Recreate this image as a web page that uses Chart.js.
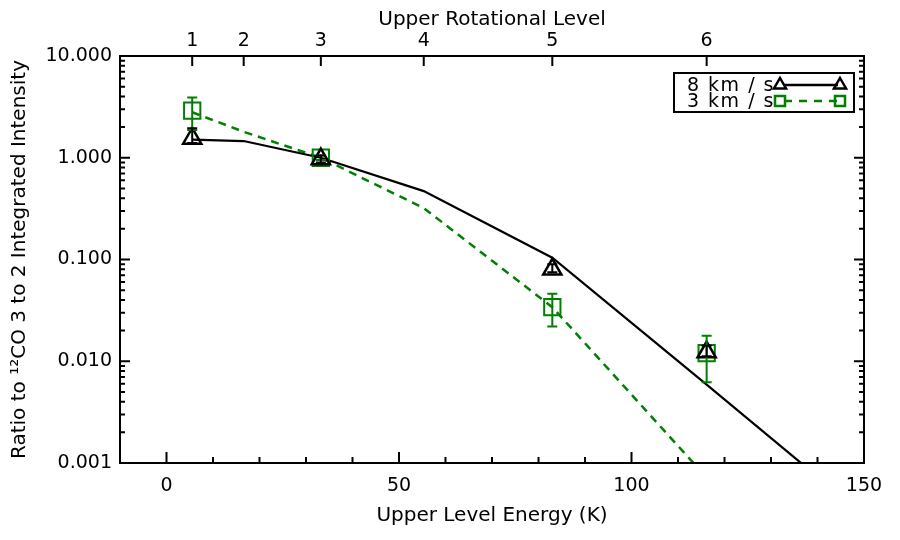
<!DOCTYPE html>
<html>
<head>
<meta charset="utf-8">
<script src="https://cdn.jsdelivr.net/npm/chart.js@4/dist/chart.umd.min.js"></script>
<style>
  body { margin: 0; background: #fff; }
  #wrap { width: 900px; height: 540px; }
</style>
</head>
<body>
<div id="wrap"><canvas id="ratioChart" width="900" height="540"></canvas></div>
<script>
// upper rotational level J and its energy (K)
const levels = ['1', '2', '3', '4', '5', '6', '7'];
const energies = [5.53, 16.60, 33.19, 55.32, 82.97, 116.16, 154.87];

// model curves
const model8 = [1.51, 1.46, 1.0, 0.47, 0.104, 0.0059, 0.0002];
const model3 = [2.8, 1.8, 1.0, 0.32, 0.034, 0.00072, 0.0000036];

// observed ratios with error bars
const obsEnergies = [5.53, 33.19, 82.97, 116.16];
const obs8 = [1.55, 0.97, 0.080, 0.0123];
const obs8Lo = [1.40, 0.90, 0.075, 0.0112];
const obs8Hi = [1.95, 1.05, 0.090, 0.0142];
const obs3 = [2.9, 1.0, 0.034, 0.012];
const obs3Lo = [1.87, 0.95, 0.022, 0.0062];
const obs3Hi = [3.9, 1.06, 0.046, 0.0178];

const xTicks = [0, 50, 100, 150];
const yTicks = [0.001, 0.01, 0.1, 1, 10];

const green = '#008000';
const tickFont = { family: 'DejaVu Sans', size: 19 };
const titleFont = { family: 'DejaVu Sans', size: 20 };

const toPts = (xs, ys) => xs.map((v, i) => ({ x: v, y: ys[i] }));

function errBars(ctx, x, y, xs, lo, hi, color) {
  ctx.save();
  ctx.strokeStyle = color;
  ctx.lineWidth = 2;
  xs.forEach((e, i) => {
    const px = x.getPixelForValue(e);
    const p1 = y.getPixelForValue(lo[i]);
    const p2 = y.getPixelForValue(hi[i]);
    ctx.beginPath();
    ctx.moveTo(px, p1); ctx.lineTo(px, p2);
    ctx.moveTo(px - 5, p1); ctx.lineTo(px + 5, p1);
    ctx.moveTo(px - 5, p2); ctx.lineTo(px + 5, p2);
    ctx.stroke();
  });
  ctx.restore();
}

function triangle(ctx, cx, cy, r) {
  ctx.beginPath();
  ctx.moveTo(cx, cy - r);
  ctx.lineTo(cx + r * 0.866, cy + r / 2);
  ctx.lineTo(cx - r * 0.866, cy + r / 2);
  ctx.closePath();
  ctx.stroke();
}

const idlPlugin = {
  id: 'idl',
  afterDatasetsDraw(chart) {
    const { ctx, scales } = chart;
    errBars(ctx, scales.x, scales.y, obsEnergies, obs3Lo, obs3Hi, green);
    errBars(ctx, scales.x, scales.y, obsEnergies, obs8Lo, obs8Hi, '#000');
  },
  afterDraw(chart) {
    const { ctx, chartArea: a, scales } = chart;
    ctx.save();
    ctx.strokeStyle = '#000';
    ctx.lineWidth = 2;
    ctx.strokeRect(a.left, a.top, a.right - a.left, a.bottom - a.top);

    ctx.beginPath();
    // bottom ticks
    for (let v = 0; v < 150; v += 10) {
      const px = scales.x.getPixelForValue(v);
      const len = v % 50 === 0 ? 11 : 6;
      ctx.moveTo(px, a.bottom); ctx.lineTo(px, a.bottom - len);
    }
    // top ticks at rotational levels
    energies.slice(0, 6).forEach(e => {
      const px = scales.x2.getPixelForValue(e);
      ctx.moveTo(px, a.top); ctx.lineTo(px, a.top + 10);
    });
    // y ticks left and right
    for (let d = -3; d <= 0; d++) {
      for (let m = 1; m <= 9; m++) {
        const py = scales.y.getPixelForValue(m * Math.pow(10, d));
        const len = m === 1 ? 10 : 5;
        ctx.moveTo(a.left, py); ctx.lineTo(a.left + len, py);
        ctx.moveTo(a.right, py); ctx.lineTo(a.right - len, py);
      }
    }
    ctx.stroke();

    // legend box
    const bx = 674, by = 73, bw = 180, bh = 39;
    ctx.lineWidth = 2;
    ctx.strokeRect(bx, by, bw, bh);
    ctx.font = '19px "DejaVu Sans"';
    ctx.letterSpacing = '1.5px';
    ctx.textAlign = 'right';
    ctx.textBaseline = 'middle';
    const rows = [
      { label: chart.data.datasets[2].label, y: 85, color: '#000', dash: [], mark: 'tri' },
      { label: chart.data.datasets[3].label, y: 101, color: green, dash: [8, 7], mark: 'sq' }
    ];
    rows.forEach(r => {
      ctx.fillStyle = '#000';
      ctx.fillText(r.label, 775, r.y + 1);
      ctx.strokeStyle = r.color;
      ctx.lineWidth = 2.5;
      ctx.setLineDash(r.dash);
      ctx.beginPath();
      ctx.moveTo(784, r.y); ctx.lineTo(838, r.y);
      ctx.stroke();
      ctx.setLineDash([]);
      [780, 840].forEach(mx => {
        if (r.mark === 'tri') triangle(ctx, mx, r.y, 7);
        else ctx.strokeRect(mx - 5, r.y - 5, 10, 10);
      });
    });
    ctx.restore();
  }
};

new Chart(document.getElementById('ratioChart'), {
  type: 'line',
  data: {
    datasets: [
      {
        label: 'obs 8 km / s',
        data: toPts(obsEnergies, obs8),
        showLine: false,
        pointStyle: 'triangle',
        pointRadius: 10.5,
        pointBorderWidth: 2.5,
        pointBorderColor: '#000',
        pointBackgroundColor: 'rgba(0,0,0,0)'
      },
      {
        label: 'obs 3 km / s',
        data: toPts(obsEnergies, obs3),
        showLine: false,
        pointStyle: 'rect',
        pointRadius: 11.5,
        pointBorderWidth: 2,
        pointBorderColor: green,
        pointBackgroundColor: 'rgba(0,0,0,0)'
      },
      {
        label: '8 km / s',
        data: toPts(energies, model8),
        borderColor: '#000',
        borderWidth: 2.2,
        pointRadius: 0
      },
      {
        label: '3 km / s',
        data: toPts(energies, model3),
        borderColor: green,
        borderWidth: 2.5,
        borderDash: [8, 6],
        pointRadius: 0
      }
    ]
  },
  options: {
    responsive: false,
    animation: false,
    layout: { padding: { left: 0, right: 36, top: 0, bottom: 0 } },
    plugins: { legend: { display: false }, tooltip: { enabled: false } },
    scales: {
      x: {
        type: 'linear',
        position: 'bottom',
        min: -10,
        max: 150,
        grid: { display: false, drawTicks: false },
        border: { display: false },
        afterFit: s => { s.height = 77; },
        afterBuildTicks: s => { s.ticks = xTicks.map(v => ({ value: v })); },
        ticks: { color: '#000', font: tickFont, padding: 12, maxRotation: 0 },
        title: { display: true, text: 'Upper Level Energy (K)', color: '#000', font: titleFont, padding: { top: 4, bottom: 12 } }
      },
      x2: {
        type: 'linear',
        position: 'top',
        min: -10,
        max: 150,
        grid: { display: false, drawTicks: false },
        border: { display: false },
        afterFit: s => { s.height = 56; },
        afterBuildTicks: s => { s.ticks = energies.slice(0, 6).map(v => ({ value: v })); },
        ticks: { color: '#000', font: tickFont, padding: 4, maxRotation: 0, callback: (v, i) => levels[i] },
        title: { display: true, text: 'Upper Rotational Level', color: '#000', font: titleFont, padding: { top: 8, bottom: 2 } }
      },
      y: {
        type: 'logarithmic',
        min: 0.001,
        max: 10,
        grid: { display: false, drawTicks: false },
        border: { display: false },
        afterFit: s => { s.width = 120; },
        afterBuildTicks: s => { s.ticks = yTicks.map(v => ({ value: v })); },
        ticks: { color: '#000', font: tickFont, padding: 8, callback: v => Number(v).toFixed(3) },
        title: { display: true, text: 'Ratio to \u00B9\u00B2CO 3 to 2 Integrated Intensity', color: '#000', font: titleFont, padding: { top: 8, bottom: 4 } }
      }
    }
  },
  plugins: [idlPlugin]
});
</script>
</body>
</html>
